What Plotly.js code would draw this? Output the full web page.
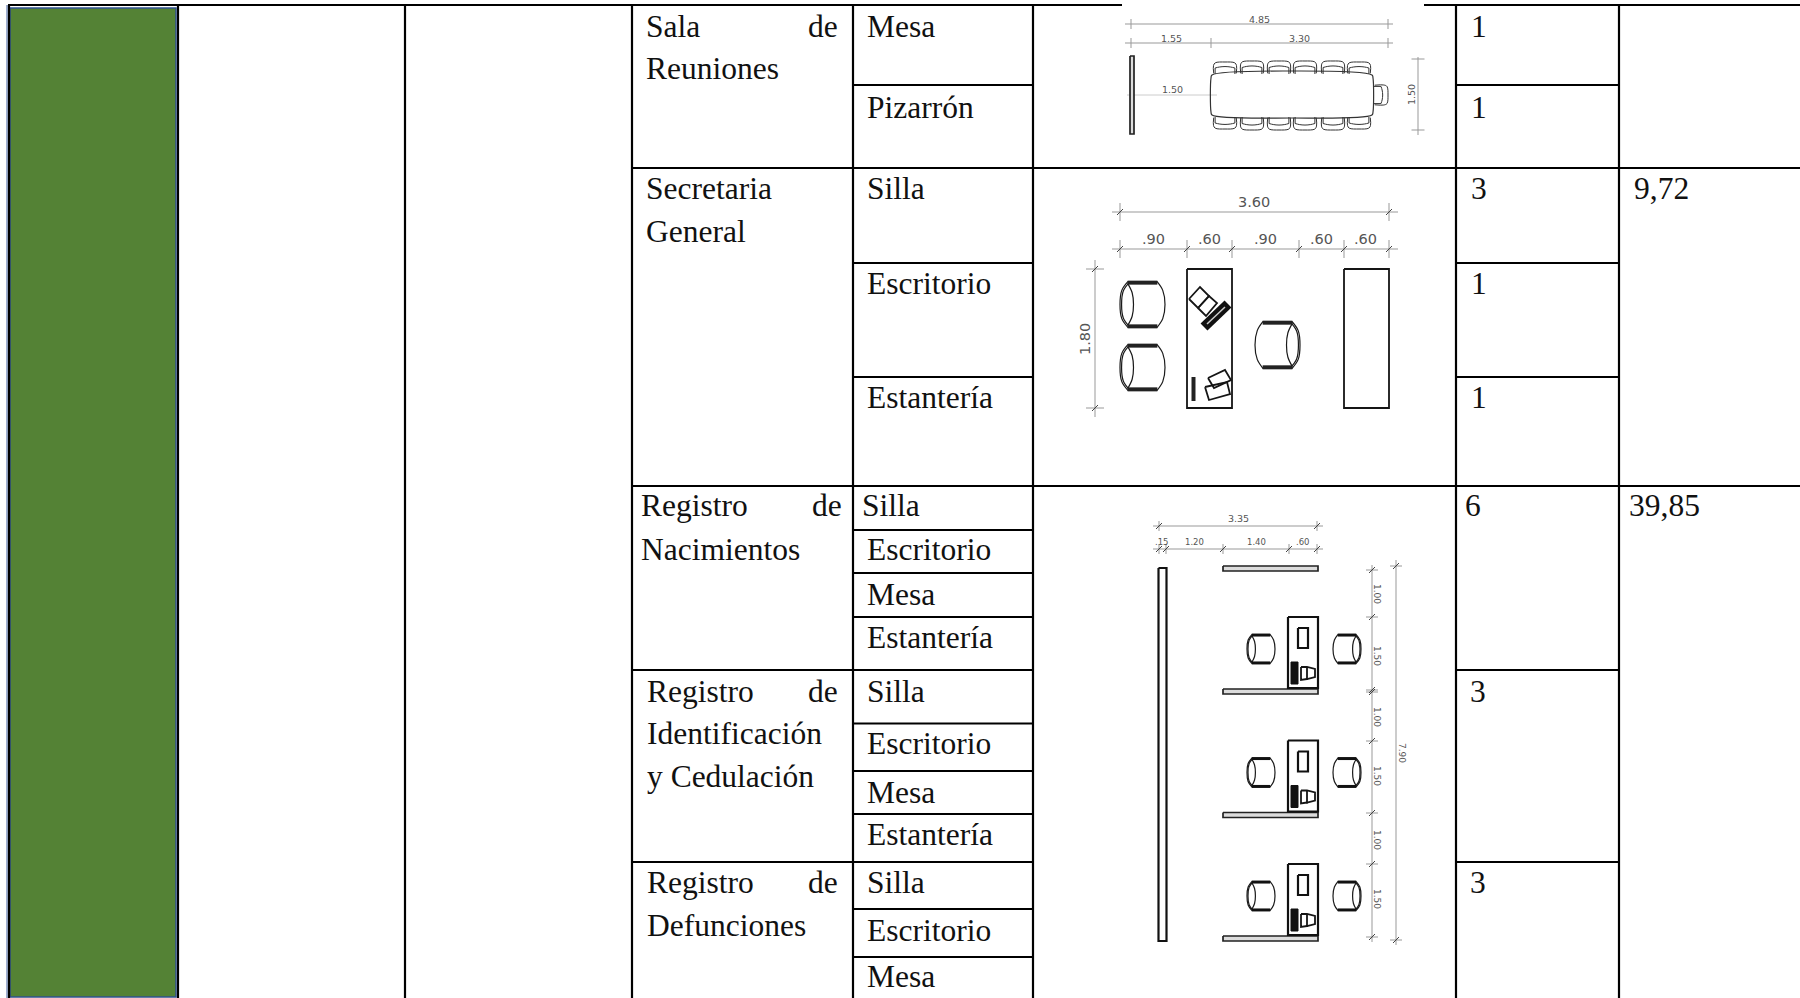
<!DOCTYPE html>
<html><head><meta charset="utf-8">
<script src="https://cdn.plot.ly/plotly-3.0.1.min.js"></script>
<style>html,body{margin:0;padding:0;background:#fff}#c{width:1800px;height:998px}</style></head>
<body><div id="c"></div>
<script>
// ---- table content ----
const areaLabels = ["Sala","de","Reuniones","Secretaria","General","Registro","de","Nacimientos","Registro","de","Identificación","y Cedulación","Registro","de","Defunciones"];
const itemLabels = ["Mesa","Pizarrón","Silla","Escritorio","Estantería","Silla","Escritorio","Mesa","Estantería","Silla","Escritorio","Mesa","Estantería","Silla","Escritorio","Mesa"];
const quantities = ["1","1","3","1","1","6","3","3"];
const surfaces = ["9,72","39,85"];
// ---- text placement (left x / right x, baseline y) ----
const areaX = [645,839,645,645,645,640,843,640,646,839,646,646,646,839,646];
const areaAnchor = ["left","right","left","left","left","left","right","left","left","right","left","left","left","right","left"];
const areaY = [36,36,78,198,241,515.5,515.5,559,701,701,743,786,892.5,892.5,935];
const itemX = [866,866,866,866,866,861,866,866,866,866,866,866,866,866,866,866];
const itemY = [36,117,198,293,407,515.5,559,604,647,701,753,802,844,892.5,940,986];
const qtyX = [1470,1470,1470,1470,1470,1464,1469,1469];
const qtyY = [36,117,198,293,407,515.5,701,892.5];
const surfX = [1633,1628];
const surfY = [198,515.5];
// ---- table rules: [fixed, from, to] ----
const gridV = [[9,5,998],[178,5,998],[405,5,998],[632,5,998],[853,5,998],[1033,5,998],[1456,5,998],[1619,5,998]];
const gridH = [[5,8,1122],[5,1424,1800],[85,853,1033],[85,1456,1619],[168,632,1800],[263,853,1033],[263,1456,1619],[377,853,1033],[377,1456,1619],
 [486,632,1800],[530,853,1033],[573,853,1033],[617,853,1033],[670,632,1033],[670,1456,1619],[723.5,853,1033],[771,853,1033],[814,853,1033],
 [862,632,1033],[862,1456,1619],[909,853,1033],[957,853,1033]];
const greenX = [10,176,176,10,10];
const greenY = [8,8,997,997,8];
const paleEdgeX = [7,7];
const paleEdgeY = [5,998];
// ---- plan dimensions ----
const dimH = [ // y, x from, x to, ticks, tick half-length, slashed
 [24,1125,1393,[1131,1388],5,false],[43,1125,1393,[1131,1211,1388],5,false],
 [212,1112,1398,[1120,1389],9,true],[249,1112,1398,[1120,1187,1232,1299,1344,1389],9,true],
 [526,1153,1323,[1159,1317],5,true],[549,1153,1323,[1159,1166,1223,1289,1317],5,true]];
const dimV = [ // x, y from, y to, ticks, tick half-length, slashed
 [1418,57,135,[59,130],6.5,false],[1095,260,417,[269,408],9,true],
 [1372,565,942,[570,617,690,692,741,813,864,937],6,true],[1396,560,945,[566,940],6,true]];
const dimText = ["4.85","1.55","3.30","1.50","3.60",".90",".60",".90",".60",".60","3.35",".15","1.20","1.40",".60"];
const dimTextX = [1259,1171,1299,1172,1254,1153,1209,1265,1321,1365,1238,1162,1194,1256,1303];
const dimTextY = [19,38,38,89,202,239,239,239,239,239,518,542,542,542,542];
const dimTextS = [9.5,9.5,9.5,9.5,14.5,14.5,14.5,14.5,14.5,14.5,9.5,8.5,8.5,8.5,8.5];
const rotText = ["1.50","1.80","1.00","1.50","1.00","1.50","1.00","1.50","7.90"];
const rotX = [1411,1085,1377,1377,1377,1377,1377,1377,1402];
const rotY = [95,339,594,656,717,776,840,899,753];
const rotS = [9.5,14.5,9,9,9,9,9,9,9];
const rotA = [-90,-90,90,90,90,90,90,90,90];
// ---- furniture outlines in a chair's own frame: a = back→front (0..1), b = side (-1..1) ----
const frontA = [.82,.95,1,.95,.82];  const frontB = [-.98,-.6,0,.6,.98];
const backA = [.18,.04,0,.04,.18]; const backB = [-.98,-.6,0,.6,.98];
const restA = [.17,.27,.3,.27,.17]; const restB = [-.9,-.5,0,.5,.9];
const tableBackA = [.95,.3,.07,0,.07,.3,.95]; const tableBackB = [-.98,-1,-.85,0,.85,1,.98];
const tableRestA = [.5,.42,.38,.42,.5]; const tableRestB = [-.86,-.5,0,.5,.86];
const seatRoom = [[1120,1165,281,328,"L"],[1120,1165,344,391,"L"],[1255,1300,321,369,"R"]];
const seatBays = [[1247,1275,634,664,"L"],[1333,1361,634,664,"R"]];
const bayShift = [0,123.5,247];
const tableChairX = [1225,1252,1279,1305,1333,1359];

const S = {};
function add(k,xs,ys){const s=S[k]||(S[k]={x:[],y:[]});s.x.push(...xs,null);s.y.push(...ys,null);}
function rect(k,x0,x1,y0,y1){add(k,[x0,x1,x1,x0,x0],[y0,y0,y1,y1,y0]);}
function map(A,B,box){const [x0,x1,y0,y1,d]=box;const xs=[],ys=[];
 A.forEach((a,i)=>{const b=B[i];
  if(d==="L"){xs.push(x0+a*(x1-x0));ys.push((y0+y1)/2+b*(y1-y0)/2);}
  if(d==="R"){xs.push(x1-a*(x1-x0));ys.push((y0+y1)/2+b*(y1-y0)/2);}
  if(d==="U"){ys.push(y0+a*(y1-y0));xs.push((x0+x1)/2+b*(x1-x0)/2);}
  if(d==="D"){ys.push(y1-a*(y1-y0));xs.push((x0+x1)/2+b*(x1-x0)/2);}
 });return [xs,ys];}
function armchair(box,arm){
 [[backA,backB],[backA.map(a=>a+.035),backB.map(b=>b*.97)],[restA,restB],[frontA,frontB]].forEach(c=>{
  const p=map(c[0],c[1],box);add("curve",p[0],p[1]);});
 [-.93,.93].forEach(b=>{const p=map([.17,.83],[b,b],box);add(arm,p[0],p[1]);});
}
function tableChair(box){
 [[tableBackA,tableBackB],[tableRestA,tableRestB]].forEach(c=>{const p=map(c[0],c[1],box);add("curve2",p[0],p[1]);});
 [-.86,.86].forEach(b=>{const p=map([.5,1],[b,b],box);add("thin",p[0],p[1]);});
}
gridV.forEach(g=>add("grid",[g[0],g[0]],[g[1],g[2]]));
gridH.forEach(g=>add("grid",[g[1],g[2]],[g[0],g[0]]));
dimH.forEach(d=>{add("dim",[d[1],d[2]],[d[0],d[0]]);d[3].forEach(t=>{add("dim",[t,t],[d[0]-d[4],d[0]+d[4]]);if(d[5])add("slash",[t-3,t+3],[d[0]+3,d[0]-3]);});});
dimV.forEach(d=>{add("dim",[d[0],d[0]],[d[1],d[2]]);d[3].forEach(t=>{add("dim",[d[0]-d[4],d[0]+d[4]],[t,t]);if(d[5])add("slash",[d[0]-3,d[0]+3],[t+3,t-3]);});});
add("dimlight",[1127,1217],[95,95]);
// meeting room
rect("barfill",1130,1134,56,134);
add("table",[1211,1212,1292,1372,1373,1373,1372,1292,1212,1211,1211],[78,75,71,75,78,112,115,118,115,112,78]);
tableChairX.forEach((x,i)=>{const k=[1,0,0,0,0,1][i];
 tableChair([x-11.5,x+11.5,61+k,74,"U"]);tableChair([x-11.5,x+11.5,117,130-k,"D"]);});
tableChair([1374,1388,85,105,"R"]);
// office
seatRoom.forEach(b=>armchair(b,"arm"));
rect("frame",1187,1232,269,408);rect("frame",1344,1389,269,408);
add("frame",[1189,1200,1209,1198,1189],[299,287,296,308,299]);
add("frame",[1198,1209,1217,1206,1198],[308,296,303,316,308]);
add("thick",[1204,1228],[327,304]);
add("keyline",[1207,1225],[324,307]);
add("thick2",[1193.5,1193.5],[377,401]);
add("frame",[1208,1225,1231,1214,1208],[378,370,380,388,378]);
add("frame",[1205,1227,1230,1209,1205],[387,382,394,400,387]);
// registry bays
rect("wall",1158.5,1166.5,568,941);
rect("barfill",1223,1318,566,571);
bayShift.forEach(s=>{
 rect("wall",1288,1318,617+s,688+s);
 rect("barfill",1223,1318,689+s,694+s);
 rect("wall",1298,1308,628+s,648+s);
 rect("solid",1291,1298,662+s,684+s);
 add("frame",[1301,1307,1315,1315,1307,1301,1301],[667+s,667+s,669+s,677+s,679+s,680+s,667+s]);
 add("frame",[1307,1307],[667+s,680+s]);
 seatBays.forEach(b=>armchair([b[0],b[1],b[2]+s,b[3]+s,b[4]],"arm2"));
});

const T=(k,color,width,shape,extra)=>S[k]?Object.assign({type:"scatter",mode:"lines",x:S[k].x,y:S[k].y,hoverinfo:"skip",
  line:{color,width,shape:shape||"linear"},connectgaps:false},extra||{}):null;
const traces=[
 {type:"scatter",mode:"lines",x:greenX,y:greenY,fill:"toself",fillcolor:"#548235",line:{color:"#2f528f",width:1.5},hoverinfo:"skip"},
 {type:"scatter",mode:"lines",x:paleEdgeX,y:paleEdgeY,line:{color:"#7f95c0",width:1.5},hoverinfo:"skip"},
 T("grid","#000",2.2),
 T("dim","#999",1),T("dimlight","#ccc",1),T("slash","#444",1),
 T("barfill","#222",1.7,"linear",{fill:"toself",fillcolor:"#dcdcdc"}),
 T("solid","#111",1,"linear",{fill:"toself",fillcolor:"#111"}),
 T("table","#333",1.2,"spline"),
 T("curve","#1a1a1a",1.2,"spline"),T("curve2","#333",1,"spline"),
 T("thin","#333",1),T("arm","#222",4),T("arm2","#111",3),
 T("frame","#151515",1.8),T("wall","#111",2.2),T("thick","#111",10),T("keyline","#ccc",1.5),T("thick2","#222",4)
].filter(Boolean);

const SERIF="Liberation Serif, Times New Roman, serif", SANS="DejaVu Sans, sans-serif";
const notes=[];
const up=10;
function tx(text,x,y,anchor){notes.push({text,x,y:y-up,xref:"x",yref:"y",xanchor:anchor||"left",yanchor:"middle",showarrow:false,borderpad:0,font:{family:SERIF,size:31.5,color:"#111"}});}
areaLabels.forEach((t,i)=>tx(t,areaX[i],areaY[i],areaAnchor[i]));
itemLabels.forEach((t,i)=>tx(t,itemX[i],itemY[i]));
quantities.forEach((t,i)=>tx(t,qtyX[i],qtyY[i]));
surfaces.forEach((t,i)=>tx(t,surfX[i],surfY[i]));
dimText.forEach((t,i)=>notes.push({text:t,x:dimTextX[i],y:dimTextY[i],xref:"x",yref:"y",xanchor:"center",yanchor:"middle",showarrow:false,borderpad:0,font:{family:SANS,size:dimTextS[i],color:"#555"}}));
rotText.forEach((t,i)=>notes.push({text:t,x:rotX[i],y:rotY[i],xref:"x",yref:"y",xanchor:"center",yanchor:"middle",textangle:rotA[i],showarrow:false,borderpad:0,font:{family:SANS,size:rotS[i],color:"#555"}}));

Plotly.newPlot("c",traces,{width:1800,height:998,margin:{l:0,r:0,t:0,b:0,pad:0},showlegend:false,
 paper_bgcolor:"#fff",plot_bgcolor:"#fff",
 xaxis:{range:[0,1800],visible:false,fixedrange:true},yaxis:{range:[998,0],visible:false,fixedrange:true},
 annotations:notes},{displayModeBar:false,staticPlot:true});
</script></body></html>
